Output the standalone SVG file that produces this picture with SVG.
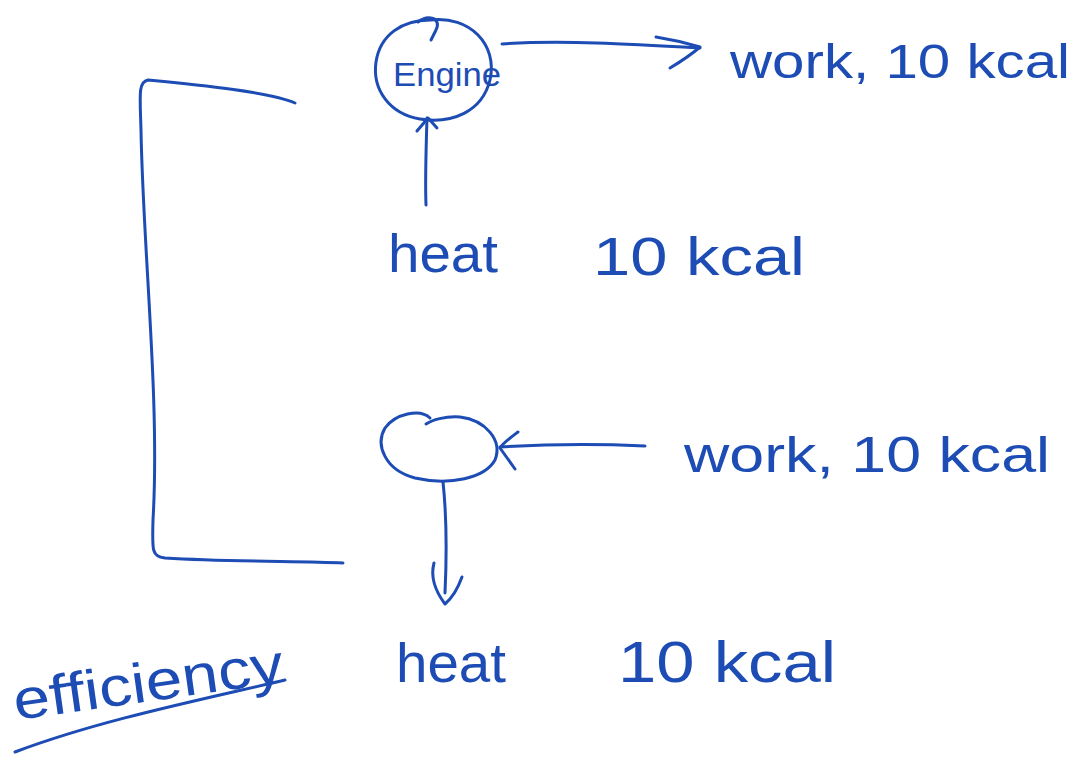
<svg xmlns="http://www.w3.org/2000/svg" width="1082" height="757" viewBox="0 0 1082 757">
  <style>
    .ink { fill: none; stroke: #1d4cb4; stroke-width: 3; stroke-linecap: round; stroke-linejoin: round; }
    .hand { fill: #1d4cb4; font-family: "Liberation Sans", "DejaVu Sans", sans-serif; }
  </style>
  <rect width="1082" height="757" fill="#ffffff"/>

  <!-- bracket grouping the two processes -->
  <g id="bracket">
    <path class="ink" d="M295,103 C270,92 200,85 148,80 C138,82 140,95 141,130 C143,250 160,400 153,520 C152,552 152,556 165,558 C230,562 300,561 343,563"/>
  </g>

  <!-- engine node -->
  <g id="engine">
    <path class="ink" d="M430,20 C470,15 498,45 490,80 C482,112 452,124 420,119 C390,114 372,90 376,62 C380,35 402,20 430,20"/>
    <path class="ink" d="M418,22 C428,14 442,18 436,30 C434,34 432,38 431,40"/>
    <text class="hand" x="393" y="86" font-size="34" textLength="108" lengthAdjust="spacingAndGlyphs">Engine</text>
  </g>

  <!-- lower blob node -->
  <g id="blob">
    <path class="ink" d="M430,418 C420,408 395,414 385,428 C375,445 385,470 415,478 C450,486 485,478 495,460 C503,440 485,420 460,417 C445,416 432,420 426,424"/>
  </g>

  <g id="labels">
    <text class="hand" x="730" y="78" font-size="48" textLength="340" lengthAdjust="spacingAndGlyphs">work, 10 kcal</text>
    <text class="hand" x="388" y="272" font-size="54" textLength="110" lengthAdjust="spacingAndGlyphs">heat</text>
    <text class="hand" x="593" y="275" font-size="54" textLength="212" lengthAdjust="spacingAndGlyphs">10 kcal</text>
    <text class="hand" x="684" y="472" font-size="50" textLength="366" lengthAdjust="spacingAndGlyphs">work, 10 kcal</text>
    <text class="hand" x="396" y="682" font-size="56" textLength="110" lengthAdjust="spacingAndGlyphs">heat</text>
    <text class="hand" x="618" y="682" font-size="58" textLength="218" lengthAdjust="spacingAndGlyphs">10 kcal</text>
    <text class="hand" x="16" y="720" font-size="56" textLength="272" lengthAdjust="spacingAndGlyphs" transform="rotate(-8 16 720)">efficiency</text>
    <path class="ink" d="M15,752 C100,720 200,700 285,680"/>
  </g>

  <!-- connectors -->
  <g id="connectors">
    <path class="ink" d="M502,44 C560,40 630,44 700,48"/>
    <path class="ink" d="M656,37 C675,40 690,44 700,47 C692,54 680,62 670,68"/>
    <path class="ink" d="M426,205 C425,180 426,150 427,118"/>
    <path class="ink" d="M417,131 L428,118 L437,128"/>
    <path class="ink" d="M645,446 C600,444 550,444 500,447"/>
    <path class="ink" d="M518,432 C510,438 503,443 500,448 C505,455 510,462 515,469"/>
    <path class="ink" d="M443,482 C446,510 447,550 445,593"/>
    <path class="ink" d="M434,563 C430,578 436,592 445,604 C452,598 458,588 462,577"/>
  </g>
</svg>
